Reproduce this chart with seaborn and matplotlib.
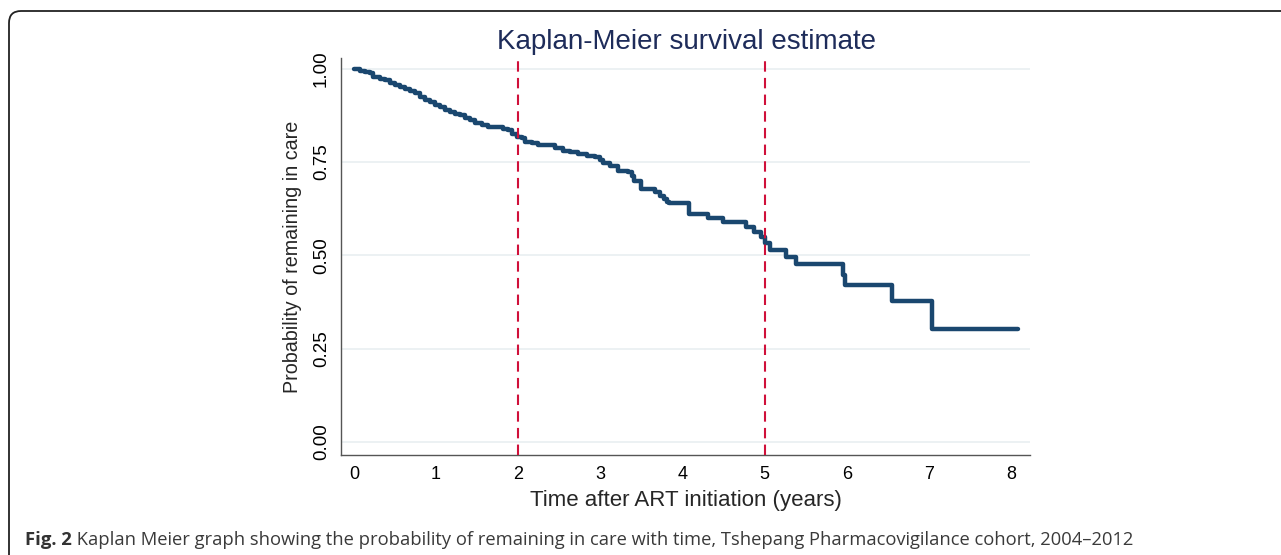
import numpy as np
import pandas as pd
import matplotlib
matplotlib.use("Agg")
import matplotlib.pyplot as plt
from matplotlib.patches import FancyBboxPatch
import seaborn as sns

# Kaplan-Meier estimate (time in years, survival after step)
time_years = [0.000, 0.073, 0.134, 0.195, 0.235, 0.317, 0.378, 0.438, 0.499, 0.560,
              0.621, 0.682, 0.743, 0.804, 0.865, 0.926, 0.987, 1.048, 1.108, 1.169,
              1.230, 1.291, 1.352, 1.413, 1.474, 1.555, 1.636, 1.717, 1.819, 1.879,
              1.921, 1.982, 2.043, 2.083, 2.164, 2.245, 2.367, 2.448, 2.549, 2.631,
              2.732, 2.834, 2.935, 2.996, 3.030, 3.120, 3.220, 3.340, 3.380, 3.410,
              3.500, 3.660, 3.720, 3.770, 3.810, 3.840, 4.080, 4.310, 4.490, 4.770,
              4.870, 4.960, 5.010, 5.060, 5.260, 5.380, 5.950, 5.980, 6.550, 7.040,
              8.080]
survival = [1.000, 0.995, 0.992, 0.989, 0.979, 0.974, 0.969, 0.963, 0.956, 0.950,
            0.946, 0.941, 0.934, 0.925, 0.916, 0.910, 0.904, 0.898, 0.889, 0.883,
            0.880, 0.876, 0.869, 0.862, 0.855, 0.850, 0.845, 0.843, 0.838, 0.835,
            0.826, 0.818, 0.814, 0.805, 0.801, 0.796, 0.795, 0.787, 0.781, 0.777,
            0.772, 0.767, 0.763, 0.756, 0.747, 0.740, 0.727, 0.724, 0.712, 0.700,
            0.679, 0.670, 0.660, 0.652, 0.644, 0.640, 0.612, 0.600, 0.590, 0.577,
            0.564, 0.550, 0.533, 0.515, 0.497, 0.477, 0.448, 0.421, 0.379, 0.304,
            0.304]
marker_years = [2, 5]
x_ticks = [0, 1, 2, 3, 4, 5, 6, 7, 8]
y_ticks = [0.00, 0.25, 0.50, 0.75, 1.00]

df = pd.DataFrame({"time": time_years, "surv": survival})

sns.set_style("white")
plt.rcParams["font.family"] = ["Liberation Sans", "DejaVu Sans"]

fig = plt.figure(figsize=(12.81, 5.55), dpi=100)
ax = fig.add_axes([0.2662, 0.180, 0.5378, 0.7155])

for yv in y_ticks:
    ax.axhline(yv, color="#eaf0f2", lw=1.3, zorder=0)

sns.lineplot(data=df, x="time", y="surv", drawstyle="steps-post",
             color="#1a476f", linewidth=3.2, ax=ax, zorder=3)

for xv in marker_years:
    ax.axvline(xv, color="#d0103a", lw=1.5, ls=(0, (5, 3)), zorder=4)

ax.set_xlim(-0.158, 8.23)
ax.set_ylim(-0.035, 1.029)
ax.set_xticks(x_ticks)
ax.set_xticklabels([str(v) for v in x_ticks])
ax.set_yticks(y_ticks)
ax.set_yticklabels([f"{v:.2f}" for v in y_ticks], rotation=90, va="center")
ax.tick_params(axis="both", length=5, width=1, color="#555555",
               labelcolor="black", direction="out")
ax.tick_params(axis="x", labelsize=13, pad=3)
ax.tick_params(axis="y", labelsize=13.5, pad=3)

for s in ["top", "right"]:
    ax.spines[s].set_visible(False)
for s in ["left", "bottom"]:
    ax.spines[s].set_color("#555555")
    ax.spines[s].set_linewidth(1.0)

ax.set_xlabel("Time after ART initiation (years)", fontsize=16, labelpad=5)
ax.set_ylabel("Probability of remaining in care", fontsize=14.2, labelpad=8)
fig.text(0.536, 0.925, "Kaplan-Meier survival estimate", ha="center", va="center",
         fontsize=20, color="#1e2c5a")

# frame around the figure (open on right and bottom)
frame = FancyBboxPatch((0.09, -1.0), 20, (555 - 11) / 100 + 1.0,
                       boxstyle="round,pad=0,rounding_size=0.12",
                       transform=fig.dpi_scale_trans, fill=False,
                       ec="#222222", lw=1.3)
fig.patches.append(frame)

t1 = fig.text(25 / 1281, 1 - 540 / 555, "Fig. 2", fontsize=13.3, fontweight="bold",
              color="#333333", va="center", family=["Open Sans", "DejaVu Sans"])
ax.annotate(" Kaplan Meier graph showing the probability of remaining in care with time, "
            "Tshepang Pharmacovigilance cohort, 2004\u20132012",
            xy=(1, 0.5), xycoords=t1, va="center", ha="left", fontsize=13.2,
            color="#3a3a3a", family=["Open Sans", "DejaVu Sans"], annotation_clip=False)

fig.savefig("out.png", dpi=100)
